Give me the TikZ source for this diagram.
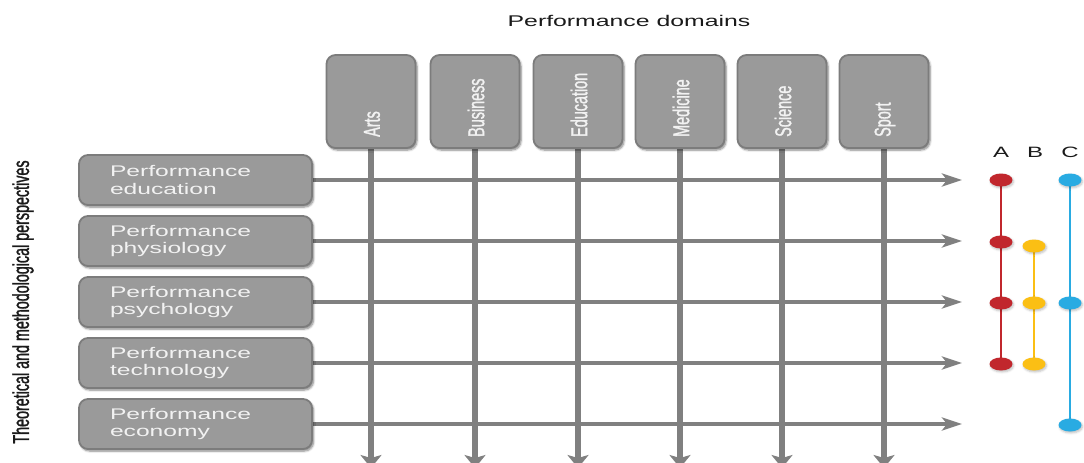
\documentclass[tikz,border=0pt]{standalone}
\usepackage{fontspec}
\setmainfont{Liberation Sans}
\newfontfamily\widefont[FakeStretch=1.6]{Liberation Sans}
\newfontfamily\narrowfont[FakeStretch=0.625,FakeBold=1.2]{Liberation Sans}
\usetikzlibrary{arrows.meta,shapes.geometric,shadows.blur,backgrounds}
\definecolor{boxfill}{HTML}{9A9A9A}
\definecolor{boxline}{HTML}{7C7C7C}
\definecolor{boxtext}{HTML}{F2F2F2}
\definecolor{gridline}{HTML}{808080}
\definecolor{dotred}{HTML}{C1272D}
\definecolor{dotyellow}{HTML}{FBBF14}
\definecolor{dotblue}{HTML}{29ABE2}
\definecolor{titletext}{HTML}{1A1A1A}
\begin{document}
\begin{tikzpicture}[x=1pt,y=-1pt,
  box/.style={draw=boxline, line width=1.8pt, fill=boxfill, rounded corners=9pt,
    blur shadow={shadow xshift=1.5pt, shadow yshift=-2pt, shadow blur steps=6, shadow opacity=50}},
  rowbox/.style={box, minimum width=233pt, minimum height=50pt, text width=171pt,
    inner xsep=0pt, inner ysep=0pt, align=left, text=boxtext,
    font=\widefont\fontsize{15.4}{17.5}\selectfont},
  colbox/.style={box, minimum width=89pt, minimum height=93pt, inner sep=0pt},
  collabel/.style={rotate=90, anchor=west, text=boxtext, inner sep=0pt,
    font=\narrowfont\fontsize{23}{26}\selectfont},
  hline/.style={draw=gridline, line width=4.3pt, -{Stealth[length=20pt,width=13pt,inset=5pt]}},
  vline/.style={draw=gridline, line width=5.5pt, -{Stealth[length=13pt,width=21pt,inset=3pt]}},
  dotnode/.style={ellipse, minimum width=23pt, minimum height=13pt, inner sep=0pt, fill=#1,
    blur shadow={shadow xshift=1pt, shadow yshift=-1.5pt, shadow blur steps=4, shadow opacity=25}},
  link/.style={draw=#1, line width=2pt},
  letter/.style={text=titletext, inner sep=0pt, font=\widefont\fontsize{15}{18}\selectfont}
]
\useasboundingbox (0,0) rectangle (1084,463);

% title and side label
\node[text=titletext, inner sep=0pt, font=\widefont\fontsize{15.5}{18}\selectfont] (title) at (629,21) {Performance domains};
\node[rotate=90, text=titletext, inner sep=0pt, font=\narrowfont\fontsize{22.9}{26}\selectfont] (persp) at (23,302) {Theoretical and methodological perspectives};

% domain boxes
\foreach \n/\x/\t in {arts/371/Arts, business/475/Business, education/578/Education,
                     medicine/680/Medicine, science/782/Science, sport/884/Sport}{
  \node[colbox] (\n) at (\x,101.5) {};
  \node[collabel] (\n-label) at (\x+1,137) {\t};
  \coordinate (\n-end) at (\x,468);
}

% perspective boxes
\foreach \n/\y/\t in {pedu/180/education, pphys/241/physiology, ppsych/302/psychology,
                     ptech/363/technology, pecon/424/economy}{
  \node[rowbox] (\n) at (195.5,\y) {Performance\\\t};
  \coordinate (\n-end) at (962,\y);
}

% dots
\node[dotnode=dotred] (A1) at (1001,180) {};
\node[dotnode=dotred] (A2) at (1001,242) {};
\node[dotnode=dotred] (A3) at (1001,303) {};
\node[dotnode=dotred] (A4) at (1001,364) {};
\node[dotnode=dotyellow] (B1) at (1034,246) {};
\node[dotnode=dotyellow] (B2) at (1034,303) {};
\node[dotnode=dotyellow] (B3) at (1034,364) {};
\node[dotnode=dotblue] (C1) at (1070,180) {};
\node[dotnode=dotblue] (C2) at (1070,303) {};
\node[dotnode=dotblue] (C3) at (1070,425) {};

\node[letter] (labA) at (1001,152) {A};
\node[letter] (labB) at (1035,152) {B};
\node[letter] (labC) at (1070,152) {C};

\begin{scope}[on background layer]
  \foreach \n in {pedu,pphys,ppsych,ptech,pecon}{
    \draw[hline] (\n.east) -- (\n-end);
  }
  \foreach \n in {arts,business,education,medicine,science,sport}{
    \draw[vline] (\n.south) -- (\n-end);
  }
  \draw[link=dotred] (A1.center) -- (A2.center) -- (A3.center) -- (A4.center);
  \draw[link=dotyellow] (B1.center) -- (B2.center) -- (B3.center);
  \draw[link=dotblue] (C1.center) -- (C2.center) -- (C3.center);
\end{scope}
\end{tikzpicture}
\end{document}
